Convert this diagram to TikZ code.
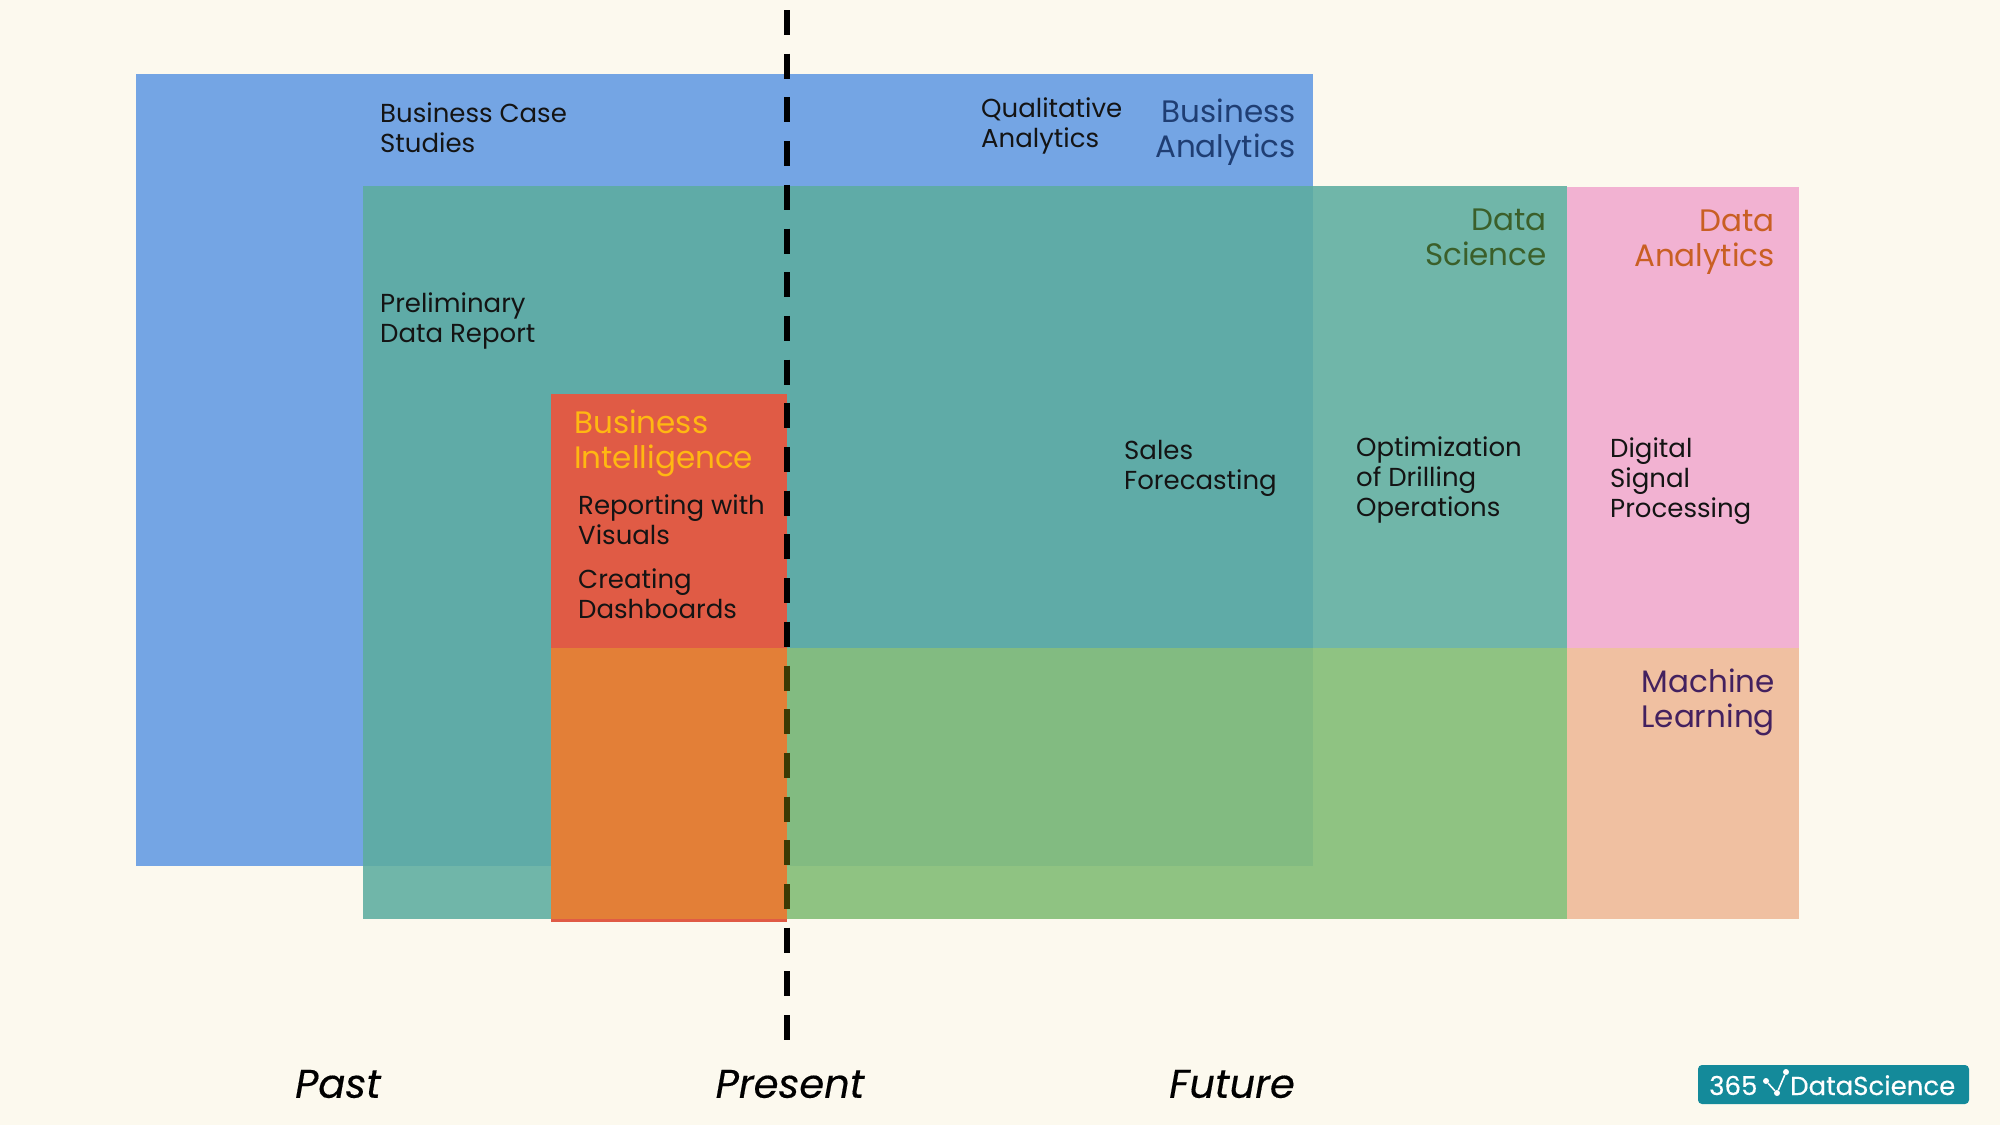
\documentclass[tikz,border=0pt]{standalone}
\usepackage{fontspec}
\setmainfont{Poppins}
\newfontfamily\heavyfont{Poppins}[FakeBold=0.35]
\usetikzlibrary{positioning}
\definecolor{paper}{RGB}{252,249,238}
\definecolor{bablue}{RGB}{116,165,228}
\definecolor{dsgreen}{RGB}{92,173,159}
\definecolor{dapink}{RGB}{242,178,210}
\definecolor{bired}{RGB}{224,91,69}
\definecolor{mlyellow}{RGB}{237,235,17}
\definecolor{logoteal}{RGB}{20,138,154}
\definecolor{batext}{RGB}{31,62,115}
\definecolor{dstext}{RGB}{59,95,42}
\definecolor{datext}{RGB}{201,95,35}
\definecolor{bitext}{RGB}{255,184,18}
\definecolor{mltext}{RGB}{67,33,95}
\tikzset{
  item/.style={anchor=north west,align=left,inner sep=0pt,text=black!92,font=\fontsize{26}{30}\selectfont},
  field/.style={anchor=north east,align=right,inner sep=0pt,font=\fontsize{31}{35}\selectfont},
  era/.style={anchor=center,inner sep=0pt,font=\heavyfont\fontsize{40}{44}\selectfont\itshape},
  logotext/.style={anchor=base west,inner sep=0pt,text=white,font=\heavyfont\fontsize{26}{30}\selectfont},
  logoline/.style={draw=white,line width=1.6pt},
  logodot/.style={circle,fill=white,inner sep=0pt,minimum size=6pt},
}
\begin{document}
\begin{tikzpicture}[x=1pt,y=-1pt]
\useasboundingbox (0,0) rectangle (2000,1125);
\fill[paper] (0,0) rectangle (2000,1125);
% fields
\fill[bablue] (136,74) rectangle (1313,866);
\fill[dsgreen,opacity=0.87] (363,186) rectangle (1567,919);
\fill[dapink] (1567,187) rectangle (1799,919);
\fill[bired] (551,394) rectangle (787,922);
% present
\coordinate (presenttop) at (787,10);
\coordinate (presentbottom) at (787,1040);
\draw[line width=6.3pt,dash pattern=on 25pt off 18.7pt] (presenttop) -- (presentbottom);
\fill[mlyellow,opacity=0.25] (551,648) rectangle (1799,919);
% labels
\node[item] (casestudies) at (380,102.5) {Business Case\\Studies};
\node[item] (qualitative) at (981,97.5) {Qualitative\\Analytics};
\node[item] (prelim) at (380,292.5) {Preliminary\\Data Report};
\node[item] (reporting) at (578,494.5) {Reporting with\\Visuals};
\node[item] (dashboards) at (578,568.5) {Creating\\Dashboards};
\node[item] (forecasting) at (1124,440.5) {Sales\\Forecasting};
\node[item] (drilling) at (1356,436.5) {Optimization\\of Drilling\\Operations};
\node[item] (signal) at (1610,437.5) {Digital\\Signal\\Processing};
\node[field,text=batext] (ba) at (1296,98.5) {Business\\Analytics};
\node[field,text=dstext] (ds) at (1547,208.5) {Data\\Science};
\node[field,text=datext] (da) at (1775,209.5) {Data\\Analytics};
\node[field,text=mltext] (ml) at (1775,668.5) {Machine\\Learning};
\node[field,anchor=north west,align=left,text=bitext] (bi) at (574,409.5) {Business\\Intelligence};
\node[era] (past) at (338,1084) {Past};
\node[era] (present) at (790,1084) {Present};
\node[era] (future) at (1232,1084) {Future};
% logo
\fill[logoteal,rounded corners=4pt] (1698,1065) rectangle (1969,1104);
\node[logotext] (logonum) at (1709,1095) {365};
\node[logotext] (logoname) at (1790,1095) {DataScience};
\node[logodot] (dota) at (1766,1081) {};
\node[logodot] (dotb) at (1777,1093) {};
\node[logodot] (dotc) at (1786,1072) {};
\draw[logoline] (dota) -- (dotb) -- (dotc);
\end{tikzpicture}
\end{document}
